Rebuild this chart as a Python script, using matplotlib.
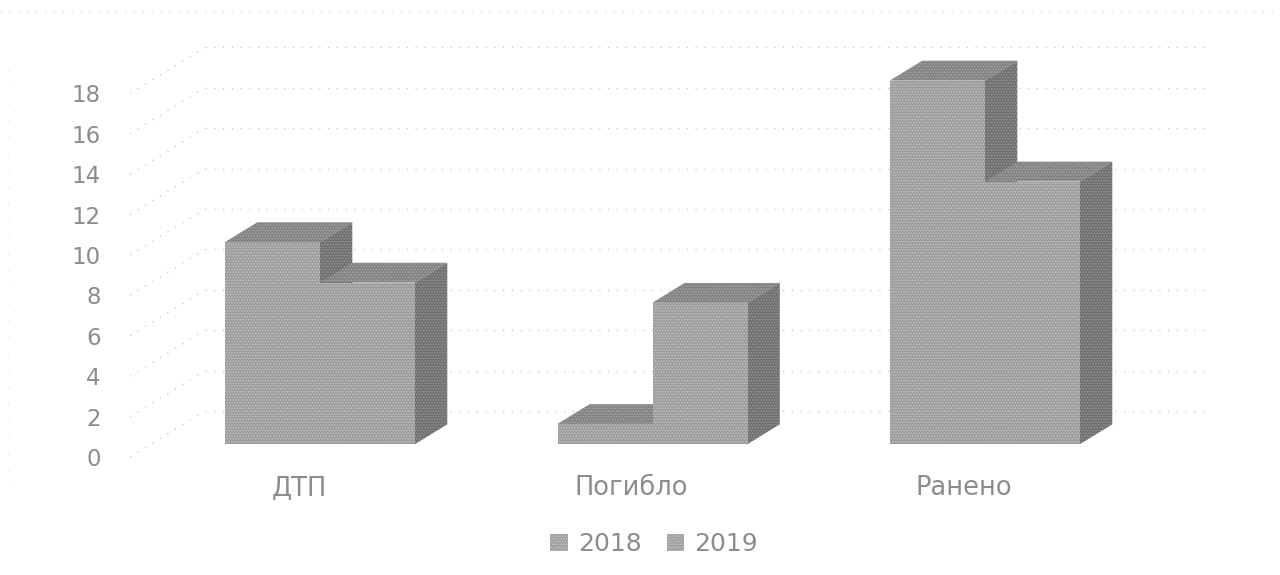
import matplotlib
matplotlib.use('Agg')
import matplotlib.pyplot as plt
from matplotlib.lines import Line2D
from matplotlib.patches import Patch, Polygon

categories = ['ДТП', 'Погибло', 'Ранено']
series_names = ['2018', '2019']
values_2018 = [10, 1, 18]
values_2019 = [8, 7, 13]
y_ticks = [0, 2, 4, 6, 8, 10, 12, 14, 16, 18]

plt.rcParams['font.family'] = 'DejaVu Sans'
plt.rcParams['hatch.linewidth'] = 0.7

W, H = 1280, 575
fig = plt.figure(figsize=(W / 100, H / 100), dpi=100)
fig.patch.set_facecolor('white')
# plot box in pixels, floor front edge sits at y=457
ax = fig.add_axes([130 / W, (H - 457) / H, 1110 / W, 417 / H])
ax.set_xlim((130 - 299) / 332.5, (1240 - 299) / 332.5)
ax.set_ylim(0, 417 / 20.2)

# oblique projection, depth 0 is the front of the floor, 1 the back wall
DEPTH_X = 75 / 332.5
DEPTH_Y = 46 / 20.2
BAR_W = 95 / 332.5
D_FRONT = 0.28
D_BACK = 0.71


def proj(x, v, d):
    return x + DEPTH_X * d, v + DEPTH_Y * d


def face(points, fc, hatch_col, z):
    ax.add_patch(Polygon(points, closed=True, facecolor=fc, edgecolor=hatch_col,
                         linewidth=0, hatch='......', zorder=z))


def draw_bar(x0, v, z):
    x1 = x0 + BAR_W
    # right side, top, then front
    face([proj(x1, 0, D_FRONT), proj(x1, 0, D_BACK), proj(x1, v, D_BACK), proj(x1, v, D_FRONT)],
         '#6f6f6f', '#9a9a9a', z)
    face([proj(x0, v, D_FRONT), proj(x0, v, D_BACK), proj(x1, v, D_BACK), proj(x1, v, D_FRONT)],
         '#828282', '#aaaaaa', z)
    face([proj(x0, 0, D_FRONT), proj(x1, 0, D_FRONT), proj(x1, v, D_FRONT), proj(x0, v, D_FRONT)],
         '#9c9c9c', '#c6c6c6', z)


# grid on the back wall and the side wall
grid_style = dict(color='#c4c4c4', lw=0.9, linestyle=(0, (1, 6)), zorder=1)
for v in y_ticks:
    x_left, y_back = proj(-0.508, v, 1)
    x_right, _ = proj(2.51, v, 1)
    ax.plot([x_left, x_right], [y_back, y_back], **grid_style)
    ax.plot([-0.508, x_left], [v, y_back], **grid_style)

for i in range(len(categories)):
    draw_bar(i - BAR_W, values_2018[i], 3)
    draw_bar(i, values_2019[i], 4)

for side in ax.spines.values():
    side.set_visible(False)
ax.patch.set_alpha(0)
ax.set_yticks(y_ticks)
ax.set_yticklabels([str(v) for v in y_ticks], fontsize=16.5, color='#8c8c8c')
ax.set_xticks(range(len(categories)))
ax.set_xticklabels(categories, fontsize=18.5, color='#8c8c8c')
ax.tick_params(axis='y', length=0, pad=21)
ax.tick_params(axis='x', length=0, pad=13)
for lab in ax.get_xticklabels():
    lab.set_x(lab.get_position()[0])

# scan leftovers along the top and left of the page
fig.add_artist(Line2D([0, 1], [1 - 12 / H, 1 - 12 / H], color='#d0d0d0', lw=0.8, linestyle=(0, (1, 7))))
fig.add_artist(Line2D([8 / W, 8 / W], [1 - 70 / H, 1 - 500 / H], color='#e0e0e0', lw=0.8, linestyle=(0, (1, 14))))

handles = [Patch(facecolor='#a0a0a0', edgecolor='#c6c6c6', linewidth=0, hatch='......', label=n) for n in series_names]
fig.legend(handles=handles, loc='center', bbox_to_anchor=(654 / W, 1 - 544 / H), ncol=2, frameon=False,
           fontsize=18, labelcolor='#8c8c8c', handlelength=0.7, handleheight=0.65,
           handletextpad=0.4, columnspacing=1.0)

fig.savefig('out.png', dpi=100)
